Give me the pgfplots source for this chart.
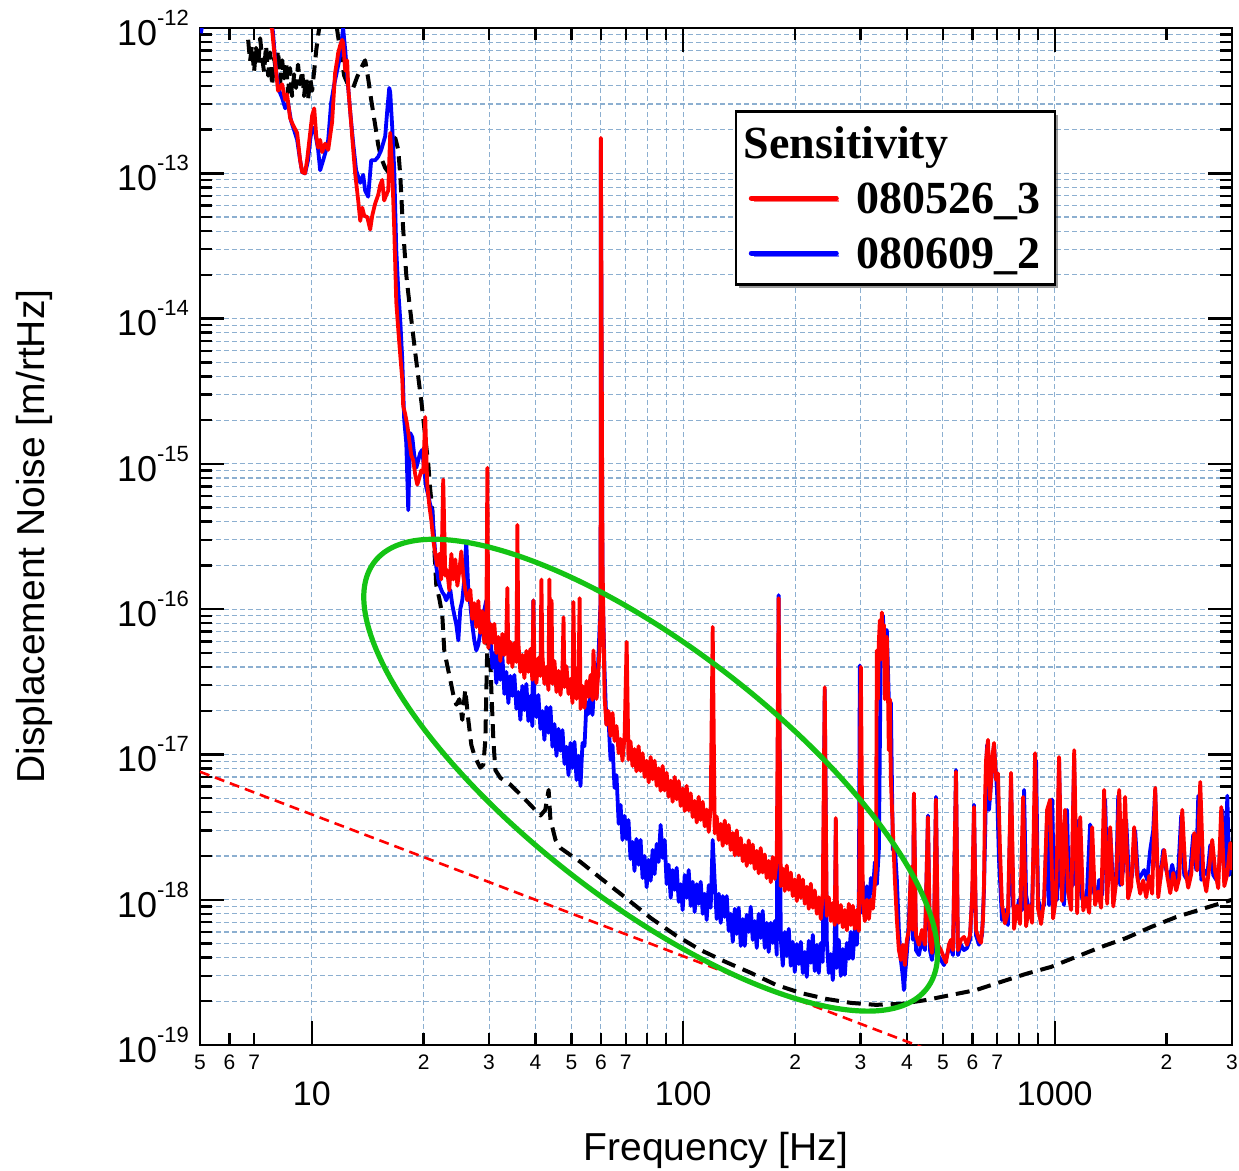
\documentclass[border=0pt]{standalone}
\usepackage{pgfplots}
\pgfplotsset{compat=1.18}
\usepackage{fontspec}
\setmainfont{Liberation Sans}
\newfontfamily\timesfont{Liberation Serif}
\usetikzlibrary{shadows}
\definecolor{gridblue}{RGB}{140,175,208}
\definecolor{ellgreen}{RGB}{20,195,20}
\newcommand{\sci}[1]{10\raisebox{10pt}{\fontsize{11}{12}\selectfont #1}}
\newcommand{\lstrut}{\rule[-3pt]{0pt}{20pt}}

\begin{document}
\begin{tikzpicture}
\begin{axis}[
  at={(0,0)}, anchor=south west,
  scale only axis, width=516pt, height=508.5pt,
  xmode=log, ymode=log,
  xmin=5, xmax=3000, ymin=1e-19, ymax=1e-12,
  axis line style={line width=1.25pt},
  tick align=inside,
  major tick length=12pt, minor tick length=6pt,
  tick style={black, line width=1.2pt},
  grid=both,
  major grid style={gridblue, line width=0.55pt, dash pattern=on 2.5pt off 1.5pt},
  minor grid style={gridblue, line width=0.55pt, dash pattern=on 2.5pt off 1.5pt},
  xtick={10,100,1000}, xticklabels={10,100,1000},
  xticklabel style={font=\fontsize{17}{20}\selectfont, yshift=-14.8pt},
  extra x ticks={5,6,7,20,30,40,50,60,70,200,300,400,500,600,700,2000,3000},
  extra x tick labels={5,6,7,2,3,4,5,6,7,2,3,4,5,6,7,2,3},
  extra x tick style={major tick length=6pt, grid=none,
    xticklabel style={font=\fontsize{10.5}{12}\selectfont, yshift=13.3pt}},
  ytick={1e-19,1e-18,1e-17,1e-16,1e-15,1e-14,1e-13,1e-12},
  yticklabels={\sci{-19},\sci{-18},\sci{-17},\sci{-16},\sci{-15},\sci{-14},\sci{-13},\sci{-12}},
  yticklabel style={font=\fontsize{18}{20}\selectfont, xshift=-2pt},
  xlabel={Frequency [Hz]},
  ylabel={Displacement Noise [m/rtHz]},
  label style={font=\fontsize{19.5}{22}\selectfont},
  xlabel style={at={(axis description cs:0.5,-0.104)}, anchor=center},
  ylabel style={at={(axis description cs:-0.160,0.5)}, anchor=center},
  legend style={at={(0.518,0.919)}, anchor=north west,
    draw=black, line width=1.2pt, fill=white,
    font=\timesfont\bfseries\fontsize{23}{26}\selectfont,
    inner xsep=6.5pt, inner ysep=5.5pt, row sep=7pt, column sep=7.75pt,
    nodes={inner sep=1pt},
    drop shadow={shadow xshift=1.5pt, shadow yshift=-1.5pt, fill=black!80}},
  legend cell align=left,
  legend image code/.code={\draw[#1, line width=2.5pt, line cap=round] (0pt,0pt) -- (42.5pt,0pt);},
]

% reference slope (red dashed)
\addplot[red, line width=1.3pt, dash pattern=on 5pt off 3pt, forget plot]
  coordinates {(5,7.6e-18) (500,8.5e-20)};

% design sensitivity (black dashed)
\addplot[black, line width=2pt, dash pattern=on 7pt off 4pt, line join=round, forget plot] coordinates {
(6.74,8.3e-13) (6.82,5.9e-13) (6.90,7.6e-13) (6.99,4.97e-13) (7.08,7.3e-13) (7.17,5.5e-13) (7.26,8.5e-13) (7.35,6.2e-13)
(7.44,4.97e-13) (7.53,7.6e-13) (7.63,4.7e-13) (7.72,6.8e-13) (7.82,4.0e-13) (7.92,6.2e-13) (8.01,4.97e-13) (8.11,7.05e-13)
(8.22,4.25e-13) (8.32,6.0e-13) (8.42,4.5e-13) (8.53,5.9e-13) (8.63,3.6e-13) (8.74,5.3e-13) (8.85,3.4e-13) (8.96,4.8e-13)
(9.07,3.87e-13) (9.18,5.6e-13) (9.30,4.1e-13) (9.42,5.1e-13) (9.53,3.4e-13) (9.65,4.6e-13) (9.77,3.2e-13) (9.90,4.5e-13)
(10.02,3.7e-13) (10.15,5.1e-13) (10.28,7.05e-13) (10.40,8.9e-13) (10.53,1.1e-12) (10.66,1.3e-12) (11.2,1.56e-12)
(11.55,1.3e-12) (11.70,9.7e-13) (11.92,7.05e-13) (12.22,4.7e-13) (12.45,4.2e-13) (12.68,4.0e-13) (12.92,3.87e-13)
(13.24,4.6e-13) (13.67,5.5e-13) (13.92,6.0e-13) (14.18,4.5e-13) (14.45,3.2e-13) (14.81,2.15e-13) (15.09,1.57e-13)
(15.38,1.27e-13) (15.76,1.09e-13) (16.06,1.02e-13) (16.36,1.23e-13) (16.78,1.75e-13) (17.09,1.45e-13) (17.30,9.75e-14)
(17.52,5.2e-14) (17.73,3.2e-14) (17.96,2.0e-14) (18.18,1.5e-14) (18.52,1.0e-14) (18.99,5.8e-15) (19.35,3.96e-15)
(19.70,2.75e-15) (19.95,2.07e-15) (20.20,1.53e-15) (20.58,1.0e-15) (20.84,6.6e-16) (21.10,4.8e-16) (21.23,3.5e-16)
(21.63,1.46e-16) (22.03,1.19e-16) (22.45,9.1e-17) (22.73,5.2e-17) (23.15,4.1e-17) (23.60,3.25e-17) (24.04,2.57e-17)
(24.49,2.2e-17) (24.96,2.4e-17) (25.41,1.73e-17) (25.89,2.8e-17) (26.38,1.73e-17) (26.88,1.16e-17) (27.38,9.9e-18)
(27.90,8.9e-18) (28.42,8.1e-18) (28.96,8.5e-18) (29.32,1.26e-17) (29.69,6.1e-17) (30.06,7.2e-17) (30.43,2.8e-17)
(30.81,1.26e-17) (31.20,7.8e-18) (32.18,6.9e-18) (34.24,6.2e-18) (36.43,5.3e-18) (38.76,4.5e-18) (41.25,3.8e-18)
(42.5,4.15e-18) (43.4,5.7e-18) (43.89,3.55e-18) (45.3,2.58e-18) (46.71,2.27e-18) (49.70,2.03e-18) (52.88,1.82e-18)
(59.87,1.41e-18) (70.0,1.03e-18) (81.67,7.5e-19) (95.3,5.7e-19) (111.4,4.5e-19) (130.1,3.73e-19) (151.9,3.14e-19)
(177.4,2.6e-19) (207.2,2.28e-19) (242.0,2.08e-19) (282.5,1.95e-19) (330.0,1.89e-19) (385.3,1.92e-19) (450.0,2.04e-19)
(525.5,2.21e-19) (613.7,2.39e-19) (716.7,2.72e-19) (837.1,3.09e-19) (977.5,3.45e-19) (1141,4.04e-19) (1333,4.73e-19)
(1557,5.45e-19) (1818,6.5e-19) (2123,7.6e-19) (2480,8.6e-19) (3000,1.0e-18)
};

% 080609_2 (blue)
\addplot[blue, line width=1.9pt, line join=round, forget plot] coordinates {
(5.03,9.2e-13) (5.13,1.3e-12) (7.72,1.3e-12) (7.86,9.4e-13) (8.01,5.1e-13) (8.17,3.7e-13) (8.32,3.3e-13) (8.48,2.8e-13)
(8.63,3.05e-13) (8.79,2.3e-13) (8.96,1.98e-13) (9.13,1.7e-13) (9.30,1.23e-13) (9.42,1.02e-13) (9.59,1.0e-13) (9.77,1.23e-13)
(9.90,1.7e-13) (10.02,2.08e-13) (10.21,1.9e-13) (10.40,1.45e-13) (10.53,1.05e-13) (10.73,1.23e-13) (10.93,1.45e-13)
(11.07,1.7e-13) (11.27,3.05e-13) (11.48,4.05e-13) (11.70,5.1e-13) (11.92,6.5e-13) (12.14,1.0e-12) (12.30,7.05e-13)
(12.53,3.9e-13) (12.68,2.7e-13) (12.92,1.62e-13) (13.16,1.05e-13) (13.50,8.6e-14) (13.75,9.75e-14) (13.92,7.6e-14)
(14.18,6.9e-14) (14.45,1.23e-13) (14.81,1.23e-13) (15.09,1.3e-13) (15.38,1.45e-13) (15.76,1.8e-13) (15.96,2.7e-13)
(16.16,3.87e-13) (16.26,3.6e-13) (16.46,2.08e-13) (16.67,1.05e-13) (16.88,2.97e-14) (17.09,1.57e-14) (17.30,9.8e-15)
(17.52,5.2e-15) (17.73,2.0e-15) (17.96,1.39e-15) (18.18,4.8e-16) (18.41,1.63e-15) (18.64,1.53e-15) (18.87,1.15e-15)
(19.11,9.4e-16) (19.35,1.06e-15) (19.58,1.19e-15) (19.83,1.25e-15) (20.07,9.0e-16) (20.32,6.9e-16) (20.58,6.1e-16)
(20.84,5.2e-16) (21.10,4.8e-16) (21.36,3.0e-16) (21.63,1.95e-16) (21.90,1.6e-16) (22.17,1.42e-16) (22.45,1.31e-16)
(22.73,1.25e-16) (23.01,1.15e-16) (23.30,1.25e-16) (23.60,1.35e-16) (23.89,1.07e-16) (24.19,9.1e-17) (24.49,7.8e-17)
(24.80,6.1e-17) (25.10,1.0e-16) (25.41,1.15e-16) (25.73,1.6e-16) (26.05,2.9e-16) (26.38,1.35e-16) (26.71,1.07e-16)
(27.04,7.8e-17) (27.38,6.1e-17) (27.72,5.2e-17) (28.07,5.7e-17) (28.42,6.9e-17) (28.77,8.4e-17) (29.13,9.9e-17)
(29.50,1.15e-16) (29.87,8.4e-17)
(30.24,6.97e-17) (30.62,3.94e-17) (31.0,4.99e-17) (31.39,3.1e-17) (31.78,4.99e-17) (32.18,3.26e-17) (32.58,4.84e-17)
(32.99,2.61e-17) (33.40,3.7e-17) (33.82,2.26e-17) (34.24,3.47e-17) (34.67,2.53e-17) (35.10,3.52e-17) (35.54,2.06e-17)
(35.98,2.69e-17) (36.43,1.73e-17) (36.88,2.96e-17) (37.34,2.02e-17) (37.81,3.06e-17) (38.28,1.7e-17) (38.76,2.53e-17)
(39.24,1.57e-17) (39.48,1.15e-16) (39.73,2.45e-17) (40.23,1.81e-17) (40.73,2.57e-17) (41.25,1.5e-17) (41.76,1.99e-17)
(42.28,1.26e-17) (42.81,2.12e-17) (43.35,1.41e-17) (43.89,2.12e-17) (44.44,1.13e-17) (45.0,1.62e-17) (45.56,9.78e-18)
(46.13,1.5e-17) (46.71,1.06e-17) (47.29,1.47e-17) (47.88,8.6e-18) (48.48,1.13e-17) (49.09,7.2e-18) (49.70,1.2e-17)
(50.32,8.08e-18) (50.95,1.22e-17) (51.59,6.68e-18) (52.23,9.78e-18) (52.88,6.06e-18) (53.54,1.2e-17) (54.21,1.14e-17)
(54.89,2.3e-17) (55.57,1.9e-17) (56.27,2.73e-17) (56.97,1.87e-17) (57.68,3.42e-17) (58.40,2.45e-17) (59.13,4.84e-17)
(59.9,1.15e-16) (60.0,1.45e-13) (60.6,1.6e-16)
(61.4,3.7e-17) (62.1,1.62e-17) (62.9,1.76e-17) (63.7,9.18e-18) (64.5,1.16e-17) (65.3,5.89e-18) (66.1,7.2e-18)
(67.0,3.33e-18) (67.8,4.49e-18) (68.6,2.58e-18) (69.5,3.78e-18) (70.4,2.62e-18) (71.2,3.54e-18) (72.1,1.91e-18)
(73.0,2.5e-18) (73.9,1.58e-18) (74.8,2.62e-18) (75.8,1.74e-18) (76.75,2.58e-18) (77.7,1.41e-18) (78.7,2.0e-18)
(79.7,1.22e-18) (80.7,1.88e-18) (81.7,1.35e-18) (82.7,2.2e-18) (83.7,1.5e-18) (84.8,2.42e-18) (85.8,1.82e-18)
(86.9,3.27e-18) (88.0,1.94e-18) (89.1,2.58e-18) (90.2,1.28e-18) (91.3,1.74e-18) (92.5,1.03e-18) (93.6,1.6e-18)
(94.8,1.17e-18) (96.0,1.66e-18) (97.2,9.66e-19) (98.4,1.28e-18) (99.6,8.5e-19) (100.9,1.48e-18) (102.1,1.03e-18)
(103.4,1.6e-18) (104.7,9.06e-19) (106.0,1.33e-18) (107.3,8.23e-19) (108.7,1.28e-18) (110.0,9.37e-19) (111.4,1.33e-18)
(112.8,8.0e-19) (114.2,1.1e-18) (115.6,7.26e-19) (117.1,1.26e-18) (118.5,8.8e-19) (120.0,2.58e-18) (121.5,1.33e-18)
(123.0,7.37e-19) (124.6,1.1e-18) (126.1,6.93e-19) (127.7,1.06e-18) (129.3,7.62e-19) (130.9,1.06e-18) (132.5,6.1e-19)
(134.2,8.0e-19) (135.9,5.13e-19) (137.6,8.66e-19) (139.3,5.82e-19) (141.0,8.8e-19) (142.8,4.81e-19) (144.6,7.37e-19)
(146.4,4.81e-19) (148.2,7.86e-19) (150.0,6.0e-19) (151.9,8.93e-19) (153.8,5.29e-19) (155.7,7.13e-19) (157.7,4.66e-19)
(159.6,8.0e-19) (161.6,5.46e-19) (163.6,8.38e-19) (165.7,4.66e-19) (167.7,6.93e-19) (169.8,4.37e-19) (172.0,6.93e-19)
(174.1,5.04e-19) (176.3,7.13e-19) (178.5,4.17e-19) (180.6,1.25e-16) (183.0,5.37e-19) (185.3,3.51e-19) (187.6,6.0e-19)
(189.9,4.1e-19) (192.3,6.3e-19) (194.7,3.51e-19) (197.1,5.13e-19) (199.6,3.18e-19) (202.1,4.96e-19) (204.6,3.61e-19)
(207.2,5.13e-19) (209.8,3.13e-19) (212.4,4.37e-19) (215.0,2.94e-19) (217.7,5.21e-19) (220.4,3.68e-19) (223.2,5.73e-19)
(225.9,3.23e-19) (228.8,4.89e-19) (231.6,3.13e-19) (234.5,5.04e-19) (237.4,3.73e-19) (240.3,2.8e-17) (243.3,5.29e-19)
(246.4,3.13e-19) (249.5,4.23e-19) (252.6,2.8e-19) (255.7,4.89e-19) (257.4,3.55e-18) (258.9,3.39e-19) (262.2,5.29e-19)
(265.5,2.99e-19) (268.8,4.58e-19) (272.2,3.04e-19) (275.6,5.04e-19) (279.0,3.92e-19) (282.5,6.0e-19) (286.0,3.92e-19)
(289.6,6.3e-19) (293.2,4.89e-19) (296.9,1.0e-18) (298.7,4.1e-17) (300.6,8.12e-19) (304.3,1.33e-18) (308.1,7.86e-19)
(312.0,1.24e-18) (315.9,8.38e-19) (319.9,1.41e-18) (323.9,1.15e-18) (327.9,1.82e-18) (332.0,1.28e-18) (336.2,2.24e-18)
(340.3,6.1e-17) (344.5,9.1e-17) (348.8,5.2e-17) (353.1,7.2e-17)
(357.5,2.4e-17) (362.1,2.26e-17) (366.6,2.2e-18) (371.2,2.3e-18) (375.8,1.37e-18) (380.5,6.2e-19) (385.3,3.85e-19)
(390.1,2.94e-19) (392.5,2.39e-19) (397.4,3.55e-19) (402.4,5.3e-19) (410.0,1.48e-18) (415.1,5.3e-19) (417.7,5.2e-18)
(423.0,4.5e-19) (430.8,4.16e-19) (438.9,5.3e-19) (447.2,4.5e-19) (455.6,3.8e-18) (461.3,4.5e-19) (467.1,3.85e-19)
(472.9,4.9e-19) (478.8,5.1e-18) (484.8,4.16e-19) (493.9,3.85e-19) (503.2,3.55e-19) (512.7,4.16e-19) (522.2,4.9e-19)
(532.1,4.16e-19) (542.1,7.8e-18) (548.8,4.16e-19) (559.2,4.9e-19) (569.7,4.5e-19) (580.4,4.65e-19) (591.3,5.3e-19)
(602.4,1.37e-18) (606.2,4.5e-18) (613.7,5.7e-19) (625.3,4.9e-19) (637.1,5.7e-19) (645.0,1.17e-18) (657.0,1.16e-17)
(665.2,4.15e-18) (677.8,7.8e-18) (686.2,1.16e-17) (699.1,5.7e-18) (707.8,1.88e-18) (721.2,7.25e-19) (734.6,8.5e-19)
(748.4,6.7e-19) (762.6,6.7e-18) (772.1,9.2e-19) (786.7,7.85e-19) (801.5,1.0e-18) (816.5,8.5e-19) (826.7,5.7e-18)
(837.1,1.08e-18) (852.8,8.3e-19) (868.8,9.2e-19) (890.6,9.1e-18) (901.8,1.0e-18) (918.7,8.5e-19) (936.0,9.2e-19)
(953.6,3.55e-18) (965.5,9.2e-19) (983.6,4.9e-18) (995.9,1.17e-18) (1015,1.0e-18) (1027,9.1e-18) (1040,1.26e-18)
(1059,9.2e-19) (1079,4.15e-18) (1092,1.08e-18) (1113,1.26e-18) (1127,9.1e-18) (1141,1.26e-18) (1163,3.55e-18)
(1178,1.08e-18) (1200,9.2e-19) (1222,1.17e-18) (1245,3.3e-18) (1269,1.17e-18) (1293,1.0e-18) (1317,1.37e-18)
(1342,1.08e-18) (1367,4.9e-18) (1384,1.26e-18) (1410,3.0e-18) (1437,1.17e-18) (1464,1.37e-18) (1482,5.2e-18)
(1500,1.26e-18) (1528,1.6e-18) (1557,3.55e-18) (1587,1.26e-18) (1616,1.48e-18) (1646,3.0e-18) (1677,1.37e-18)
(1709,1.48e-18) (1741,1.6e-18) (1773,1.37e-18) (1807,2.2e-18) (1841,3.0e-18) (1864,5.7e-18) (1887,1.74e-18)
(1923,1.37e-18) (1959,2.2e-18) (1996,1.6e-18) (2033,1.37e-18) (2071,1.74e-18) (2110,1.37e-18) (2150,1.6e-18)
(2190,3.8e-18) (2231,1.48e-18) (2273,1.37e-18) (2316,1.6e-18) (2359,2.8e-18) (2404,1.6e-18) (2434,5.2e-18)
(2480,1.37e-18) (2526,1.6e-18) (2574,1.48e-18) (2622,2.38e-18) (2671,1.48e-18) (2722,1.37e-18) (2773,1.74e-18)
(2825,4.15e-18) (2878,1.6e-18) (2914,5.2e-18) (2950,1.48e-18) (3000,2.2e-18)
};

% 080526_3 (red)
\addplot[red, line width=1.9pt, line join=round, forget plot] coordinates {
(7.63,1.2e-12) (7.82,9.7e-13) (7.96,6.0e-13) (8.11,3.7e-13) (8.32,4.1e-13) (8.48,3.2e-13) (8.58,3.5e-13) (8.74,2.4e-13)
(8.90,2.15e-13) (9.13,1.9e-13) (9.30,1.23e-13) (9.42,1.02e-13) (9.59,1.0e-13) (9.71,1.23e-13) (9.90,1.9e-13) (10.02,2.5e-13)
(10.15,2.8e-13) (10.28,1.8e-13) (10.40,1.5e-13) (10.53,1.7e-13) (10.66,1.4e-13) (10.86,1.6e-13) (11.07,1.45e-13)
(11.20,1.8e-13) (11.34,2.25e-13) (11.55,4.9e-13) (11.70,6.0e-13) (11.77,6.7e-13) (11.92,7.6e-13) (12.07,8.3e-13)
(12.14,7.9e-13) (12.30,5.1e-13) (12.45,6.0e-13) (12.53,3.9e-13) (12.68,2.7e-13) (12.84,1.8e-13) (13.08,1.0e-13)
(13.24,7.6e-14) (13.33,6.5e-14) (13.50,4.7e-14) (13.67,5.8e-14) (13.84,5.1e-14) (14.10,5.0e-14) (14.36,4.1e-14)
(14.54,5.1e-14) (14.81,6.2e-14) (15.09,7.1e-14) (15.28,8.3e-14) (15.47,9.0e-14) (15.66,6.5e-14) (15.86,7.1e-14)
(16.06,7.6e-14) (16.26,1.9e-13) (16.46,1.05e-13) (16.67,4.1e-14) (16.88,1.3e-14) (17.09,8.4e-15) (17.30,5.6e-15)
(17.52,3.8e-15) (17.62,2.5e-15) (17.84,2.2e-15) (18.07,1.85e-15) (18.30,1.46e-15) (18.52,1.15e-15) (18.75,1.06e-15)
(18.99,8.4e-16) (19.23,7.2e-16) (19.47,8.0e-16) (19.70,9.0e-16) (19.95,8.7e-16) (20.2,2.1e-15) (20.45,7.2e-16)
(20.71,5.2e-16) (20.97,4.1e-16) (21.23,3.0e-16) (21.49,2.4e-16) (21.76,2.0e-16) (22.03,2.4e-16) (22.31,1.6e-16)
(22.58,7.8e-16) (22.87,1.7e-16) (23.15,1.85e-16) (23.45,1.35e-16) (23.75,2.4e-16) (24.04,1.6e-16) (24.34,2.2e-16)
(24.65,1.45e-16) (24.96,1.85e-16) (25.26,2.5e-16) (25.57,1.7e-16) (25.89,1.35e-16) (26.21,1.15e-16) (26.54,1.25e-16)
(26.71,1.36e-16) (27.04,8.56e-17) (27.38,1.10e-16) (27.72,7.53e-17) (28.07,1.14e-16) (28.42,6.86e-17) (28.77,9.7e-17)
(29.13,5.85e-17) (29.50,8.05e-17) (29.69,9.4e-16) (29.87,5.41e-17) (30.24,7.93e-17) (30.62,5.85e-17) (31.0,7.93e-17)
(31.39,4.99e-17) (31.78,6.43e-17) (32.18,4.4e-17) (32.58,6.76e-17) (32.99,4.84e-17) (33.40,6.97e-17) (33.61,1.4e-16)
(33.82,4.27e-17) (34.24,5.95e-17) (34.67,4.0e-17) (35.10,5.85e-17) (35.54,4.33e-17) (35.76,3.8e-16) (35.98,5.85e-17)
(36.43,3.7e-17) (36.88,4.84e-17) (37.34,3.36e-17) (37.81,5.16e-17) (38.28,3.7e-17) (38.76,5.32e-17) (39.24,3.26e-17)
(39.5,1.15e-16) (39.73,4.54e-17) (40.23,3.1e-17) (40.73,4.61e-17) (41.25,3.47e-17) (41.5,1.6e-16) (41.76,4.81e-17)
(42.28,3.06e-17) (42.81,4.0e-17) (43.35,2.78e-17) (43.6,1.6e-16) (43.89,4.27e-17) (44.2,1.15e-16) (44.44,3.06e-17)
(45.0,4.4e-17) (45.56,2.69e-17) (46.13,3.76e-17) (46.71,2.57e-17) (47.29,3.85e-17) (47.6,8.8e-17) (47.88,2.91e-17)
(48.48,4.04e-17) (49.09,2.61e-17) (49.70,3.31e-17) (50.32,2.26e-17) (50.6,1.12e-16) (50.95,3.42e-17) (51.59,2.41e-17)
(52.23,3.42e-17) (52.6,1.19e-16) (52.88,2.06e-17) (53.54,2.96e-17) (54.21,2.09e-17) (54.89,3.2e-17) (55.57,2.49e-17)
(56.27,3.52e-17) (56.97,2.37e-17) (57.3,5.2e-17) (57.68,3.31e-17) (58.40,2.41e-17) (59.13,3.94e-17)
(59.5,5.2e-17) (59.9,1.15e-16) (60.0,1.75e-13) (60.6,2.2e-16)
(61.4,2.45e-17) (62.1,1.60e-17) (62.9,1.99e-17) (63.7,1.34e-17) (64.5,1.93e-17) (65.3,1.24e-17) (66.1,1.57e-17)
(67.0,1.02e-17) (67.8,1.28e-17) (68.6,9.05e-18) (69.5,1.34e-17) (70.4,5.95e-17) (71.2,9.2e-18) (72.1,1.23e-17)
(73.0,8.33e-18) (73.9,1.09e-17) (74.8,7.66e-18) (75.8,1.14e-17) (76.75,7.7e-18) (77.7,1.02e-17) (78.7,7.0e-18)
(79.7,9.05e-18) (80.7,6.42e-18) (81.7,9.6e-18) (82.7,6.74e-18) (83.7,9.05e-18) (84.8,6.08e-18) (85.8,8.03e-18)
(86.9,5.62e-18) (88.0,8.33e-18) (89.1,5.65e-18) (90.2,7.47e-18) (91.3,5.11e-18) (92.5,6.6e-18) (93.6,4.72e-18)
(94.8,7.0e-18) (96.0,4.91e-18) (97.2,6.56e-18) (98.4,4.42e-18) (99.6,5.84e-18) (100.9,4.08e-18) (102.1,6.08e-18)
(103.4,4.12e-18) (104.7,5.4e-18) (106.0,3.71e-18) (107.3,4.79e-18) (108.7,3.4e-18) (110.0,5.11e-18) (111.4,3.54e-18)
(112.8,4.72e-18) (114.2,3.2e-18) (115.6,4.18e-18) (117.1,2.93e-18) (118.5,4.35e-18) (120.0,7.55e-17) (121.5,2.86e-18)
(123.0,3.74e-18) (124.6,2.58e-18) (126.1,3.33e-18) (127.7,2.35e-18) (129.3,3.51e-18) (130.9,2.44e-18) (132.5,3.27e-18)
(134.2,2.2e-18) (135.9,2.88e-18) (137.6,2.02e-18) (139.3,3.0e-18) (141.0,2.03e-18) (142.8,2.66e-18) (144.6,1.84e-18)
(146.4,2.38e-18) (148.2,1.71e-18) (150.0,2.56e-18) (151.9,1.79e-18) (153.8,2.4e-18) (155.7,1.63e-18) (157.7,2.17e-18)
(159.6,1.52e-18) (161.6,2.27e-18) (163.6,1.54e-18) (165.7,2.05e-18) (167.7,1.41e-18) (169.8,1.85e-18) (172.0,1.32e-18)
(174.1,1.97e-18) (176.3,1.39e-18) (178.5,1.88e-18) (180.6,1.19e-16) (183.0,1.24e-18) (185.3,1.64e-18) (187.6,1.15e-18)
(189.9,1.72e-18) (192.3,1.17e-18) (194.7,1.54e-18) (197.1,1.06e-18) (199.6,1.38e-18) (202.1,9.8e-19) (204.6,1.47e-18)
(207.2,1.03e-18) (209.8,1.38e-18) (212.4,9.37e-19) (215.0,1.23e-18) (217.7,8.66e-19) (220.4,1.29e-18) (223.2,8.8e-19)
(225.9,1.16e-18) (228.8,8.0e-19) (231.6,1.04e-18) (234.5,7.37e-19) (237.4,1.11e-18) (240.3,2.9e-17) (243.3,7.74e-19)
(246.4,1.04e-18) (249.5,7.13e-19) (252.6,9.5e-19) (255.7,6.7e-19) (257.4,3.65e-18) (258.9,1.0e-18) (262.2,6.93e-19)
(265.5,9.2e-19) (268.8,6.46e-19) (272.2,8.5e-19) (275.6,6.16e-19) (279.0,9.37e-19) (282.5,6.7e-19) (286.0,9.1e-19)
(289.6,6.3e-19) (293.2,8.5e-19) (296.9,6.1e-19) (300.6,4.0e-17) (304.3,9.8e-19) (308.1,7.13e-19) (312.0,1.0e-18)
(315.9,7.37e-19) (319.9,1.0e-18) (323.9,8.66e-19)
(330.0,1.6e-18) (332.0,5.2e-17) (334.1,2.4e-17) (336.2,6.1e-17) (338.2,8.4e-17) (340.3,4.5e-17) (342.4,9.5e-17)
(344.5,6.1e-17) (346.7,7.8e-17) (348.8,2.4e-17) (351.0,6.1e-17) (353.1,6.45e-17) (355.3,3.25e-17) (357.5,1.07e-17)
(359.8,2.4e-17) (362.1,6.7e-18) (366.6,3.0e-18) (371.2,1.37e-18) (375.8,7.25e-19) (380.5,4.5e-19) (385.3,3.85e-19)
(390.1,4.9e-19) (395.0,3.55e-19) (399.9,5.3e-19) (404.9,6.2e-19) (410.0,1.68e-18) (415.1,6.2e-19) (417.7,5.4e-18)
(423.0,5.7e-19) (430.8,4.9e-19) (438.9,6.2e-19) (447.2,4.9e-19) (455.6,3.7e-18) (461.3,5.3e-19) (467.1,4.3e-19)
(472.9,6.2e-19) (478.8,4.9e-18) (484.8,4.9e-19) (493.9,4.5e-19) (503.2,4.0e-19) (509.5,3.7e-19) (518.9,4.9e-19)
(525.5,5.3e-19) (532.1,4.5e-19) (542.1,7.6e-18) (548.8,4.5e-19) (559.2,5.3e-19) (569.7,5.55e-19) (580.4,4.9e-19)
(591.3,5.7e-19) (598.7,1.0e-18) (606.2,4.35e-18) (613.7,6.2e-19) (625.3,5.3e-19) (633.1,5.05e-19) (641.0,7.25e-19)
(645.0,1.3e-18) (649.0,4.9e-18) (653.0,9.1e-18) (661.1,1.26e-17) (669.4,4.9e-18) (677.8,9.1e-18) (686.2,1.2e-17)
(694.8,6.7e-18) (703.4,7.4e-18) (712.2,2.2e-18)
(721.2,9.2e-19) (734.7,6.87e-19) (748.5,8.23e-19) (762.6,7.47e-18) (776.9,6.3e-19) (791.6,9.1e-19) (806.4,6.81e-19)
(821.7,5.1e-18) (837.1,6.56e-19) (852.9,9.1e-19) (868.8,6.93e-19) (885.1,1.02e-17) (901.7,8.66e-19) (918.7,6.81e-19)
(936.0,1.01e-18) (953.6,4.16e-18) (971.4,4.87e-18) (989.7,7.44e-19) (1008,1.04e-18) (1027,9.6e-18) (1046,9.8e-19)
(1066,4.16e-18) (1086,1.13e-18) (1107,8.5e-19) (1128,1.07e-17) (1149,8.06e-19) (1171,3.71e-18) (1193,8.43e-19)
(1215,1.03e-18) (1238,8.12e-19) (1261,3.16e-18) (1284,9.2e-19) (1309,1.14e-18) (1333,8.8e-19) (1358,5.7e-18)
(1384,9.37e-19) (1410,3.16e-18) (1437,8.98e-19) (1464,1.34e-18) (1491,5.7e-18) (1518,1.27e-18) (1547,5.1e-18)
(1576,1.02e-18) (1606,1.24e-18) (1636,3.16e-18) (1667,1.45e-18) (1698,1.1e-18) (1730,1.36e-18) (1763,1.04e-18)
(1796,1.46e-18) (1829,1.1e-18) (1864,5.89e-18) (1899,1.04e-18) (1935,1.55e-18) (1971,2.2e-18) (2009,1.45e-18)
(2046,1.11e-18) (2084,1.53e-18) (2123,1.16e-18) (2163,1.41e-18) (2204,4.16e-18) (2245,1.62e-18) (2287,1.21e-18)
(2330,1.5e-18) (2374,2.88e-18) (2419,1.59e-18) (2464,6.47e-18) (2511,1.46e-18) (2558,1.14e-18) (2606,1.67e-18)
(2654,2.58e-18) (2704,1.55e-18) (2755,1.2e-18) (2807,4.35e-18) (2860,1.24e-18) (2914,1.5e-18) (2968,2.46e-18)
(3000,1.6e-18)
};

% highlighted region
\draw[ellgreen, line width=2.6pt, rotate around={-37.7:(axis cs:81.7,7.2e-18)}]
  (axis cs:81.7,7.2e-18) ellipse [x radius=174.5pt, y radius=63.5pt];

\addlegendimage{empty legend}
\addlegendentry{\hspace*{-56.25pt}\lstrut Sensitivity}
\addlegendimage{red}
\addlegendentry{\lstrut 080526\_3}
\addlegendimage{blue}
\addlegendentry{\lstrut 080609\_2}
\end{axis}
\pgfresetboundingbox
\path[use as bounding box] (-100pt,-63pt) rectangle (519.5pt,522.5pt);
\end{tikzpicture}
\end{document}
